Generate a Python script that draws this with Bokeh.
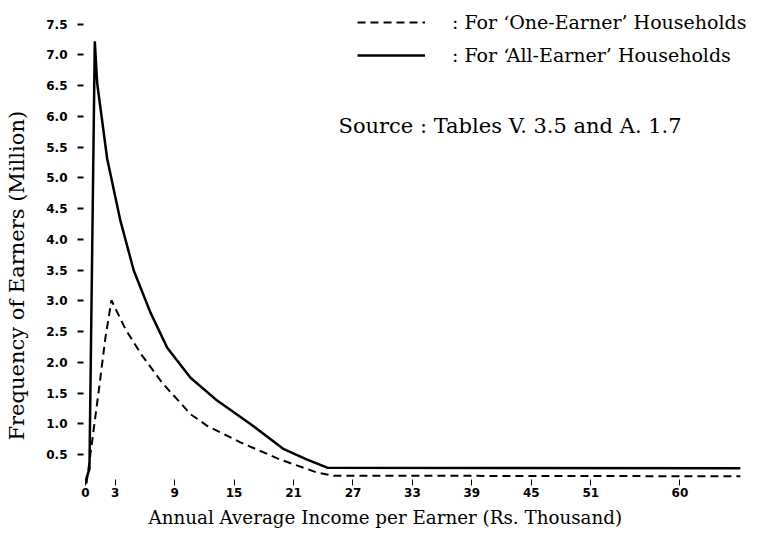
from bokeh.plotting import figure
from bokeh.models import Legend, LegendItem, Label, Range1d, FixedTicker, PrintfTickFormatter, Title
from bokeh.embed import file_html
from bokeh.resources import INLINE

# ---- data ----
income_all = [0.05, 0.40, 0.94, 1.18, 2.19, 3.53, 4.88, 6.56, 8.25, 10.60, 13.29, 16.65, 20.02, 22.38, 24.40, 66.1]
earners_all = [0.09, 0.27, 7.22, 6.54, 5.31, 4.30, 3.49, 2.81, 2.24, 1.75, 1.38, 1.00, 0.59, 0.42, 0.29, 0.28]

income_one = [0.10, 0.68, 1.34, 2.02, 2.62, 4.04, 5.72, 7.74, 10.60, 12.28, 15.65, 19.68, 23.39, 25.04, 66.1]
earners_one = [0.03, 0.73, 1.54, 2.41, 3.01, 2.54, 2.11, 1.67, 1.16, 0.97, 0.70, 0.42, 0.21, 0.16, 0.15]

x_ticks = [0, 3, 9, 15, 21, 27, 33, 39, 45, 51, 60]
y_ticks = [0.5, 1.0, 1.5, 2.0, 2.5, 3.0, 3.5, 4.0, 4.5, 5.0, 5.5, 6.0, 6.5, 7.0, 7.5]

label_one = ": For \u2018One-Earner\u2019 Households"
label_all = ": For \u2018All-Earner\u2019 Households"
source_text = "Source : Tables V. 3.5 and A. 1.7"
x_title = "Annual Average Income per Earner (Rs. Thousand)"
y_title = "Frequency of Earners (Million)"

SERIF = "DejaVu Serif"
TICKFONT = "DejaVu Sans"

p = figure(width=760, height=535, output_backend="svg", toolbar_location=None,
           x_range=Range1d(-0.2, 67.73), y_range=Range1d(0, 7.72),
           min_border_left=83, min_border_right=4, min_border_top=10, min_border_bottom=50)
p.grid.visible = False
p.outline_line_color = None
p.background_fill_color = "white"
p.border_fill_color = "white"

p.xaxis.ticker = FixedTicker(ticks=x_ticks)
p.xaxis.axis_line_color = None
p.xaxis.major_tick_in = 6
p.xaxis.major_tick_out = 0
p.xaxis.minor_tick_line_color = None
p.xaxis.major_label_standoff = 2
p.xaxis.major_label_text_font = TICKFONT
p.xaxis.major_label_text_font_style = "bold"
p.xaxis.major_label_text_font_size = "12px"
p.xaxis.major_label_text_color = "black"
p.xaxis.major_tick_line_color = "black"

p.yaxis.ticker = FixedTicker(ticks=y_ticks)
p.yaxis.formatter = PrintfTickFormatter(format="%.1f")
p.yaxis.axis_line_color = None
p.yaxis.major_tick_in = 0
p.yaxis.major_tick_out = 6
p.yaxis.major_tick_line_width = 2
p.yaxis.minor_tick_line_color = None
p.yaxis.major_label_standoff = 10
p.yaxis.major_label_text_font = TICKFONT
p.yaxis.major_label_text_font_style = "bold"
p.yaxis.major_label_text_font_size = "12px"
p.yaxis.major_label_text_color = "black"
p.yaxis.major_tick_line_color = "black"

r_one = p.line(income_one, earners_one, line_color="black", line_width=2, line_dash="8 5")
r_all = p.line(income_all, earners_all, line_color="black", line_width=2.5)

legend = Legend(items=[LegendItem(label=label_one, renderers=[r_one]),
                       LegendItem(label=label_all, renderers=[r_all])],
                location=(274, 419), padding=0, margin=0, spacing=11,
                glyph_width=68, glyph_height=20, label_height=20, label_standoff=27,
                border_line_color=None, background_fill_alpha=0,
                label_text_font=SERIF, label_text_font_size="19px", label_text_color="black")
p.add_layout(legend)

p.add_layout(Label(x=255, y=360, x_units="screen", y_units="screen", text=source_text,
                   text_font=SERIF, text_font_size="21px", text_baseline="middle",
                   text_align="left", text_color="black"))

p.add_layout(Title(text=x_title, align="left", offset=65, text_font=SERIF,
                   text_font_size="18.3px", text_font_style="normal", text_color="black"), "below")
# spacer between the y axis and its title
p.add_layout(Title(text=" ", standoff=0, text_font_size="10px"), "left")
p.add_layout(Title(text=y_title, align="left", offset=45, standoff=4, text_font=SERIF,
                   text_font_size="21px", text_font_style="normal", text_color="black"), "left")

open("out.html", "w").write(file_html(p, INLINE))
